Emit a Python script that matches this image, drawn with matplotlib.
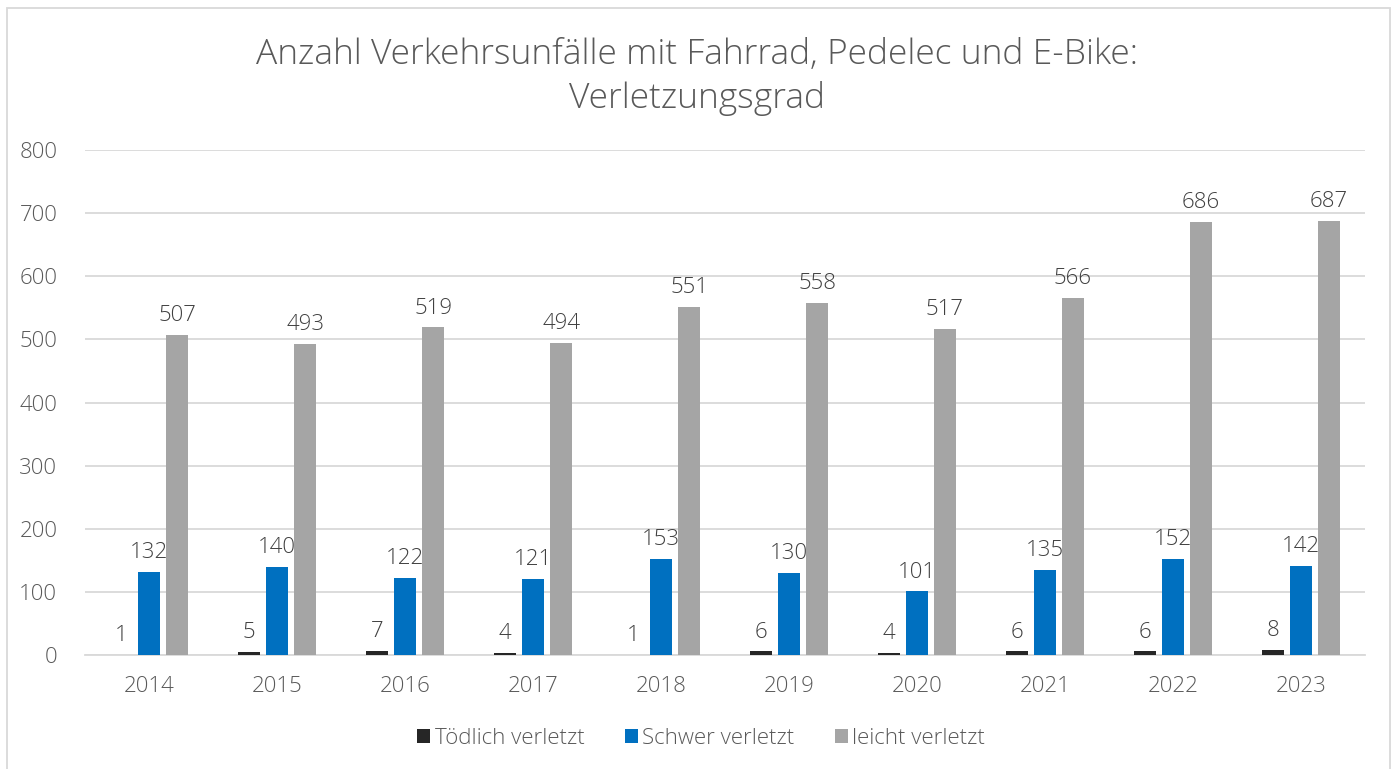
import numpy as np
import matplotlib.pyplot as plt
from matplotlib.patches import Rectangle

# ---- data ----
years = ["2014", "2015", "2016", "2017", "2018", "2019", "2020", "2021", "2022", "2023"]
toedlich = [1, 5, 7, 4, 1, 6, 4, 6, 6, 8]
schwer = [132, 140, 122, 121, 153, 130, 101, 135, 152, 142]
leicht = [507, 493, 519, 494, 551, 558, 517, 566, 686, 687]
series_names = ["Tödlich verletzt", "Schwer verletzt", "leicht verletzt"]
colors = ["#262626", "#0070C0", "#A5A5A5"]

plt.rcParams['font.family'] = ['Open Sans', 'DejaVu Sans']
plt.rcParams['font.weight'] = 'light'
txt_col = "#595959"

fig = plt.figure(figsize=(13.94, 7.69), dpi=100)
ax = fig.add_axes([0.061, 0.148, 0.918, 0.657])

x = np.arange(len(years))
w = 0.173
step = 0.22
for i, (vals, name, c) in enumerate(zip([toedlich, schwer, leicht], series_names, colors)):
    pos = x + (i - 1) * step
    ax.bar(pos, vals, width=w, color=c, label=name, zorder=3)
    for xp, v in zip(pos, vals):
        ax.text(xp, v + 14, str(v), ha="center", va="bottom", fontsize=16, color="#404040")

ax.set_xlim(-0.5, len(years) - 0.5)
ax.set_ylim(0, 800)
ax.set_yticks(range(0, 801, 100))
ax.set_xticks(x)
ax.set_xticklabels(years)
ax.yaxis.grid(True, color="#D9D9D9", lw=1.3, zorder=0)
for s in ["top", "right", "left"]:
    ax.spines[s].set_visible(False)
ax.spines["bottom"].set_color("#D9D9D9")
ax.spines["bottom"].set_linewidth(1.3)
ax.tick_params(axis="both", length=0, labelsize=16, colors=txt_col)
ax.tick_params(axis="x", pad=15)
ax.tick_params(axis="y", pad=20)

fig.text(0.5, 0.9, "Anzahl Verkehrsunfälle mit Fahrrad, Pedelec und E-Bike:\nVerletzungsgrad",
         ha="center", va="center", fontsize=25.5, color=txt_col, linespacing=1.35)

leg = fig.legend(loc="center", bbox_to_anchor=(0.503, 0.04), ncol=3, frameon=False,
                 fontsize=16, handlelength=0.6, handleheight=0.6, handletextpad=0.2,
                 columnspacing=1.8)
for t in leg.get_texts():
    t.set_color(txt_col)

fig.patches.append(Rectangle((0.005, -0.01), 0.992, 1.0, transform=fig.transFigure,
                             fill=False, edgecolor="#D9D9D9", lw=1.3))

fig.savefig("out.png", dpi=100)
